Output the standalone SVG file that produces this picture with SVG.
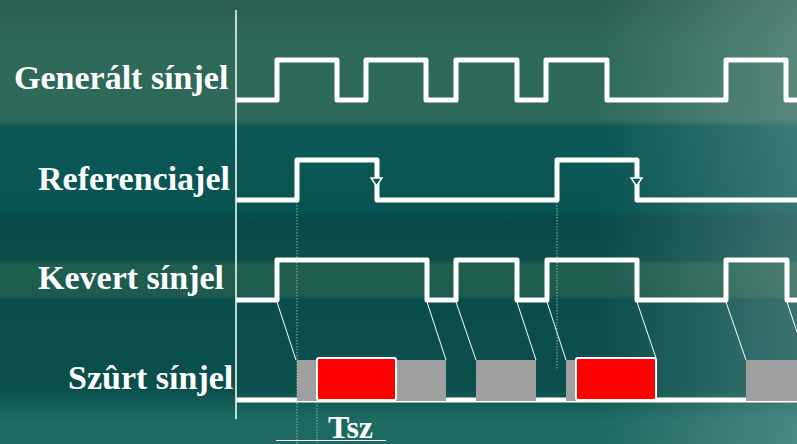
<svg xmlns="http://www.w3.org/2000/svg" width="797" height="444" viewBox="0 0 797 444">
  <defs>
    <!-- banded teal backdrop -->
    <linearGradient id="bgV" x1="0" y1="0" x2="0" y2="1">
      <stop offset="0" stop-color="#2a5e51"/>
      <stop offset="0.09" stop-color="#2d6858"/>
      <stop offset="0.27" stop-color="#2e6a5a"/>
      <stop offset="0.285" stop-color="#0b5856"/>
      <stop offset="0.47" stop-color="#075452"/>
      <stop offset="0.495" stop-color="#064a48"/>
      <stop offset="0.585" stop-color="#0a4c49"/>
      <stop offset="0.597" stop-color="#1f5d4f"/>
      <stop offset="0.664" stop-color="#1d5b4e"/>
      <stop offset="0.676" stop-color="#0a4e4b"/>
      <stop offset="0.878" stop-color="#0a4f4c"/>
      <stop offset="0.896" stop-color="#0f5853"/>
      <stop offset="0.946" stop-color="#1c6a62"/>
      <stop offset="1" stop-color="#1e6a62"/>
    </linearGradient>
    <linearGradient id="bgH" x1="0" y1="0" x2="1" y2="0">
      <stop offset="0" stop-color="#ffffff" stop-opacity="0"/>
      <stop offset="0.75" stop-color="#ffffff" stop-opacity="0"/>
      <stop offset="1" stop-color="#ffffff" stop-opacity="0.2"/>
    </linearGradient>
    <style>
      .lbl { font-family: "Liberation Serif", "Times New Roman", serif; font-weight: bold; font-size: 34px; fill: #ffffff; }
      .sig { fill: none; stroke: #ffffff; stroke-width: 5; stroke-linejoin: round; stroke-linecap: butt; }
      .slant { stroke: #ffffff; stroke-width: 1; fill: none; }
      .guide { stroke: #b8d0cc; stroke-width: 1; stroke-dasharray: 1.5 1.5; opacity: 0.8; }
      .gray { fill: #a0a0a0; }
      .red { fill: #ff0000; stroke: #ffffff; stroke-width: 2; }
      .tick { fill: #0b5856; stroke: #ffffff; stroke-width: 1.5; }
    </style>
  </defs>

  <rect x="0" y="0" width="797" height="444" fill="url(#bgV)"/>
  <rect x="0" y="0" width="797" height="444" fill="url(#bgH)"/>

  <!-- time axis -->
  <line x1="236" y1="10" x2="236" y2="419" stroke="#ffffff" stroke-width="1.5"/>

  <g id="generalt">
    <text class="lbl" x="14" y="89">Generált sínjel</text>
    <path class="sig" d="M236,100 H277 V60 H337 V100 H366 V60 H426 V100 H456 V60 H517 V100 H546 V60 H607 V100 H726 V60 H786 V100 H797"/>
  </g>

  <g id="referencia">
    <text class="lbl" x="38" y="190">Referenciajel</text>
    <path class="sig" d="M236,200 H297 V160 H377 V200 H557 V160 H637 V200 H797"/>
    <polygon class="tick" points="371,178 382,178 376.5,186"/>
    <polygon class="tick" points="631,178 642,178 636.5,186"/>
  </g>

  <g id="kevert">
    <text class="lbl" x="38" y="289">Kevert sínjel</text>
    <path class="sig" d="M236,300 H277 V260 H427 V300 H456 V260 H517 V300 H547 V260 H637 V300 H726 V260 H787 V300 H797"/>
  </g>

  <g id="szurt">
    <text class="lbl" x="68" y="389">Szûrt sínjel</text>
    <path class="sig" d="M236,400 H797"/>
    <rect class="gray" x="297" y="360" width="20" height="41"/>
    <rect class="gray" x="396" y="360" width="50" height="41"/>
    <rect class="gray" x="476" y="360" width="60" height="41"/>
    <rect class="gray" x="566" y="360" width="10" height="41"/>
    <rect class="gray" x="746" y="360" width="51" height="41"/>
    <rect class="red" x="317" y="358" width="79" height="42" rx="2"/>
    <rect class="red" x="576" y="358" width="80" height="42" rx="2"/>
  </g>

  <g id="connectors">
    <line class="slant" x1="277" y1="302" x2="296" y2="360"/>
    <line class="slant" x1="427" y1="302" x2="446" y2="360"/>
    <line class="slant" x1="456" y1="302" x2="476" y2="360"/>
    <line class="slant" x1="517" y1="302" x2="536" y2="360"/>
    <line class="slant" x1="547" y1="302" x2="566" y2="360"/>
    <line class="slant" x1="637" y1="302" x2="656" y2="358"/>
    <line class="slant" x1="726" y1="302" x2="746" y2="360"/>
    <line class="slant" x1="787" y1="302" x2="797" y2="332"/>
    <line class="guide" x1="297" y1="202" x2="297" y2="444"/>
    <line class="guide" x1="317" y1="402" x2="317" y2="444"/>
    <line class="guide" x1="557" y1="202" x2="557" y2="370"/>
  </g>

  <g id="tsz">
    <line x1="276" y1="440.5" x2="386" y2="440.5" stroke="#ffffff" stroke-width="1"/>
    <text class="lbl" x="328" y="438" style="font-size:32px">Tsz</text>
  </g>
</svg>
